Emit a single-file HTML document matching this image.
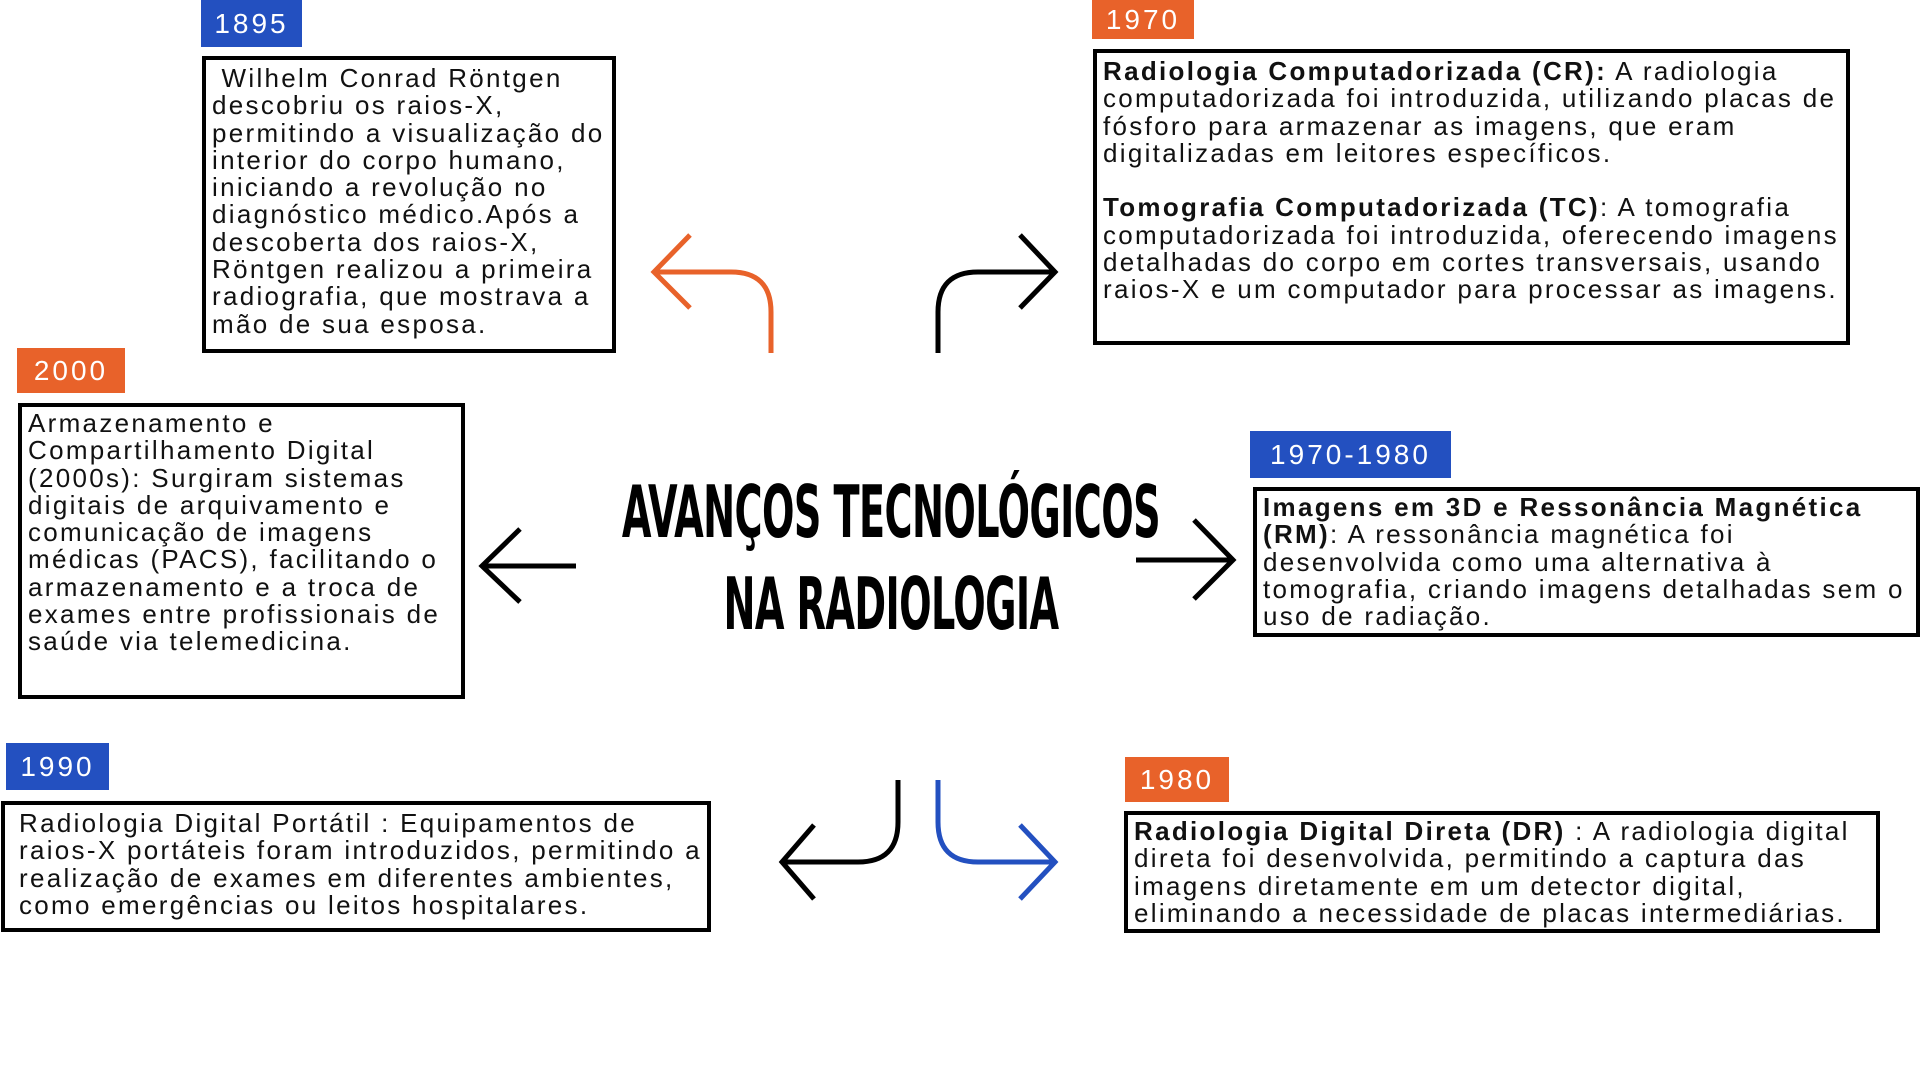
<!DOCTYPE html>
<html><head><meta charset="utf-8"><style>
body{margin:0;width:1920px;height:1080px;background:#fff;position:relative;overflow:hidden;font-family:"Liberation Sans",sans-serif;}
.lab{position:absolute;color:#fff;font-size:28px;letter-spacing:3px;display:flex;align-items:center;justify-content:center;}
.or{background:#e8622a}.bl{background:#2350c0}
.box{position:absolute;border:4px solid #000;box-sizing:border-box;font-size:26px;line-height:27.3px;letter-spacing:2.3px;color:#111;padding:3px 6px;white-space:nowrap}
.title{position:absolute;left:391px;top:466px;width:1000px;text-align:center;white-space:nowrap;font-family:"DejaVu Sans Condensed","Liberation Sans Narrow",sans-serif;font-weight:bold;font-size:72px;line-height:92px;transform:scaleX(0.59);transform-origin:center;color:#000;letter-spacing:-1px}
</style></head><body>
<div class="lab bl" style="left:201px;top:0;width:101px;height:47px">1895</div>
<div class="box" style="left:202px;top:56px;width:414px;height:297px;padding-top:5px">&nbsp;Wilhelm Conrad Röntgen<br>descobriu os raios-X,<br>permitindo a visualização do<br>interior do corpo humano,<br>iniciando a revolução no<br>diagnóstico médico.Após a<br>descoberta dos raios-X,<br>Röntgen realizou a primeira<br>radiografia, que mostrava a<br>mão de sua esposa.</div>
<div class="lab or" style="left:1092px;top:0;width:102px;height:39px">1970</div>
<div class="box" style="left:1093px;top:49px;width:757px;height:296px;padding-top:5px"><b>Radiologia Computadorizada (CR):</b> A radiologia<br>computadorizada foi introduzida, utilizando placas de<br>fósforo para armazenar as imagens, que eram<br>digitalizadas em leitores específicos.<br><br><b>Tomografia Computadorizada (TC)</b>: A tomografia<br>computadorizada foi introduzida, oferecendo imagens<br>detalhadas do corpo em cortes transversais, usando<br>raios-X e um computador para processar as imagens.</div>
<div class="lab or" style="left:17px;top:348px;width:108px;height:45px">2000</div>
<div class="box" style="left:18px;top:403px;width:447px;height:296px">Armazenamento e<br>Compartilhamento Digital<br>(2000s): Surgiram sistemas<br>digitais de arquivamento e<br>comunicação de imagens<br>médicas (PACS), facilitando o<br>armazenamento e a troca de<br>exames entre profissionais de<br>saúde via telemedicina.</div>
<div class="lab bl" style="left:1250px;top:431px;width:201px;height:47px">1970-1980</div>
<div class="box" style="left:1253px;top:487px;width:667px;height:150px"><b>Imagens em 3D e Ressonância Magnética</b><br><b>(RM)</b>: A ressonância magnética foi<br>desenvolvida como uma alternativa à<br>tomografia, criando imagens detalhadas sem o<br>uso de radiação.</div>
<div class="lab bl" style="left:6px;top:743px;width:103px;height:47px">1990</div>
<div class="box" style="left:1px;top:801px;width:710px;height:131px;padding-top:5px;padding-left:14px">Radiologia Digital Portátil : Equipamentos de<br>raios-X portáteis foram introduzidos, permitindo a<br>realização de exames em diferentes ambientes,<br>como emergências ou leitos hospitalares.</div>
<div class="lab or" style="left:1125px;top:757px;width:104px;height:45px">1980</div>
<div class="box" style="left:1124px;top:811px;width:756px;height:122px;padding-top:3px"><b>Radiologia Digital Direta (DR)</b> : A radiologia digital<br>direta foi desenvolvida, permitindo a captura das<br>imagens diretamente em um detector digital,<br>eliminando a necessidade de placas intermediárias.</div>
<div class="title">AVANÇOS TECNOLÓGICOS<br>NA RADIOLOGIA</div>
<svg width="1920" height="1080" style="position:absolute;left:0;top:0" fill="none" stroke-width="5">
<path d="M771 353 V312 Q771 272 731 272 H654 M690 235 L654 272 L690 308" stroke="#e8622a"/>
<path d="M938 353 V312 Q938 272 978 272 H1055 M1020 235 L1055 272 L1020 308" stroke="#000"/>
<path d="M576 566 H482 M520 529 L482 566 L520 602" stroke="#000"/>
<path d="M1136 560 H1233 M1194 520 L1233 560 L1194 599" stroke="#000"/>
<path d="M898 780 V822 Q898 862 858 862 H782 M814 825 L782 862 L814 899" stroke="#000"/>
<path d="M938 780 V822 Q938 862 978 862 H1055 M1020 825 L1055 862 L1020 899" stroke="#2350c0"/>
</svg>
</body></html>
